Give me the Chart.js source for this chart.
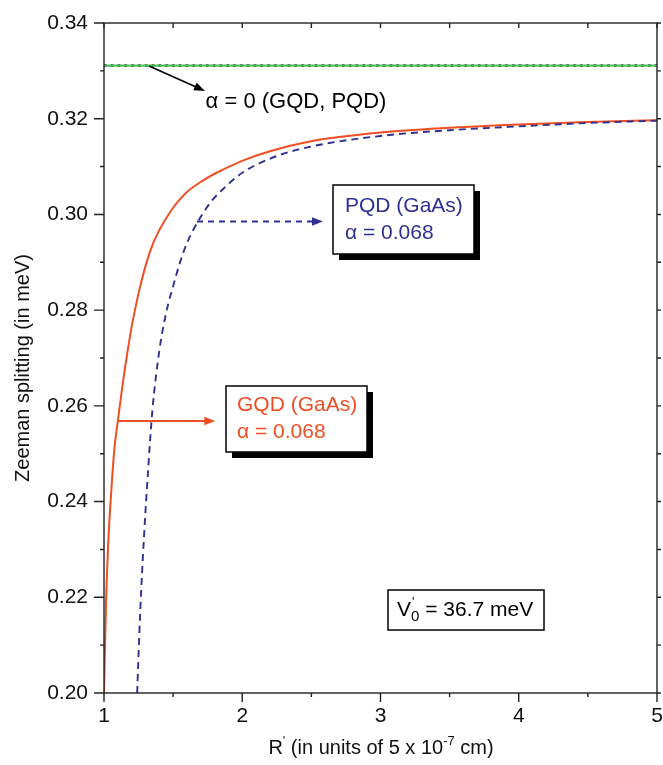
<!DOCTYPE html>
<html><head><meta charset="utf-8">
<script src="https://cdn.jsdelivr.net/npm/chart.js@4.4.0/dist/chart.umd.min.js"></script>
<style>html,body{margin:0;padding:0;background:#fff}#wrap{width:663px;height:765px}</style>
</head><body><div id="wrap"><canvas id="c" width="663" height="765"></canvas></div>
<script>
// ---- data ----
const gqdR = [1.0,1.015,1.03,1.05,1.075,1.1,1.15,1.2,1.25,1.3,1.35,1.4,1.45,1.5,1.55,1.6,1.7,1.8,2.0,2.2,2.5,3.0,3.5,4.0,4.5,5.0];
const gqdZ = [0.200,0.219,0.231,0.241,0.251,0.2568,0.2675,0.2765,0.2835,0.2892,0.2936,0.2967,0.2992,0.3014,0.3032,0.3047,0.3068,0.3085,0.3112,0.3132,0.3153,0.3171,0.3181,0.3188,0.3193,0.3197];
const pqdR = [1.24,1.255,1.27,1.29,1.32,1.35,1.4,1.45,1.5,1.55,1.6,1.65,1.7,1.77,1.85,2.0,2.25,2.5,3.0,3.5,4.0,4.5,5.0];
const pqdZ = [0.200,0.212,0.222,0.233,0.247,0.259,0.2715,0.2795,0.2850,0.2900,0.2940,0.2970,0.2995,0.3025,0.3050,0.3087,0.3122,0.3142,0.3164,0.3176,0.3184,0.3191,0.3196];
const alpha0R = [1.0,5.0];
const alpha0Z = [0.3311,0.3311];
const xTicks = [1,2,3,4,5];
const yTicks = [0.20,0.22,0.24,0.26,0.28,0.30,0.32,0.34];

const FONT = '"Liberation Sans", Arial, Helvetica, sans-serif';
const RED = '#F04E23', BLUE = '#2E3192', GREEN = '#4CBF5A';
const pts = (xs, ys) => xs.map((x, i) => ({x, y: ys[i]}));

// annotation anchors (data units)
const ann = {
  a0Arrow: [1.3255, 0.33101, 1.7306, 0.32579],
  a0Text: [1.735, 0.3235],
  pqdArrow: [1.6727, 0.29852, 2.584, 0.29852],
  gqdArrow: [1.101, 0.25684, 1.805, 0.25684],
  gqdBox: [1.8825, 0.26415, 2.9024, 0.25036],
  pqdBox: [2.6564, 0.30615, 3.6763, 0.29173],
  vBox: [3.0543, 0.22152, 4.1827, 0.21316]
};

function arrowHead(ctx, x1, y1, x2, y2, color) {
  const a = Math.atan2(y2 - y1, x2 - x1), L = 11, W = 4.2;
  ctx.save(); ctx.fillStyle = color; ctx.setLineDash([]);
  ctx.beginPath();
  ctx.moveTo(x2, y2);
  ctx.lineTo(x2 - L*Math.cos(a) + W*Math.sin(a), y2 - L*Math.sin(a) - W*Math.cos(a));
  ctx.lineTo(x2 - L*Math.cos(a) - W*Math.sin(a), y2 - L*Math.sin(a) + W*Math.cos(a));
  ctx.closePath(); ctx.fill(); ctx.restore();
}

const decor = {
  id: 'decor',
  afterDraw(chart) {
    const {ctx, chartArea: ca} = chart;
    const sx = chart.scales.x, sy = chart.scales.y;
    const P = (r, z) => [sx.getPixelForValue(r), sy.getPixelForValue(z)];
    ctx.save();
    ctx.strokeStyle = '#222'; ctx.lineWidth = 1.4;
    ctx.strokeRect(ca.left, ca.top, ca.right - ca.left, ca.bottom - ca.top);
    const nY = Math.round((sy.max - sy.min) / 0.01);
    for (let i = 0; i <= nY; i++) {
      const y = sy.getPixelForValue(sy.min + i * 0.01);
      const major = i % 2 === 0;
      ctx.beginPath();
      ctx.moveTo(ca.left - (major ? 10 : 4), y); ctx.lineTo(ca.left, y);
      ctx.moveTo(ca.right, y); ctx.lineTo(ca.right + 4, y);
      ctx.stroke();
    }
    const nX = Math.round((sx.max - sx.min) / 0.5);
    for (let i = 0; i <= nX; i++) {
      const x = sx.getPixelForValue(sx.min + i * 0.5);
      const major = i % 2 === 0;
      ctx.beginPath();
      ctx.moveTo(x, ca.bottom); ctx.lineTo(x, ca.bottom + (major ? 9 : 4));
      ctx.moveTo(x, ca.top); ctx.lineTo(x, ca.top + 5);
      ctx.stroke();
    }
    ctx.fillStyle = '#111';
    ctx.font = '20px ' + FONT;
    ctx.textBaseline = 'middle';
    ctx.save();
    ctx.translate(23, 368);
    ctx.rotate(-Math.PI / 2);
    ctx.textAlign = 'center';
    ctx.fillText('Zeeman splitting (in meV)', 0, 0);
    ctx.restore();
    const parts = [['R', 0], ['\'', 1], [' (in units of 5 x 10', 0], ['-7', 1], [' cm)', 0]];
    const fN = '20px ' + FONT, fS = '13px ' + FONT;
    let tw = 0;
    parts.forEach(p => { ctx.font = p[1] ? fS : fN; tw += ctx.measureText(p[0]).width; });
    let xx = 381 - tw / 2;
    const yy = 748;
    ctx.textAlign = 'left';
    parts.forEach(p => {
      ctx.font = p[1] ? fS : fN;
      ctx.fillText(p[0], xx, p[1] ? yy - 7 : yy);
      xx += ctx.measureText(p[0]).width;
    });

    ctx.strokeStyle = '#000'; ctx.lineWidth = 1.6;
    let [x1, y1] = P(ann.a0Arrow[0], ann.a0Arrow[1]);
    let [x2, y2] = P(ann.a0Arrow[2], ann.a0Arrow[3]);
    const ang = Math.atan2(y2 - y1, x2 - x1);
    ctx.beginPath(); ctx.moveTo(x1, y1); ctx.lineTo(x2 - 6*Math.cos(ang), y2 - 6*Math.sin(ang)); ctx.stroke();
    arrowHead(ctx, x1, y1, x2, y2, '#000');
    let [tx, ty] = P(ann.a0Text[0], ann.a0Text[1]);
    ctx.fillStyle = '#000'; ctx.font = '22px ' + FONT; ctx.textAlign = 'left';
    ctx.fillText('\u03b1 = 0 (GQD, PQD)', tx, ty);

    [x1, y1] = P(ann.pqdArrow[0], ann.pqdArrow[1]);
    [x2, y2] = P(ann.pqdArrow[2], ann.pqdArrow[3]);
    ctx.strokeStyle = BLUE; ctx.lineWidth = 1.8; ctx.setLineDash([6, 5]);
    ctx.beginPath(); ctx.moveTo(x1, y1); ctx.lineTo(x2 - 8, y2); ctx.stroke();
    ctx.setLineDash([]);
    arrowHead(ctx, x1, y1, x2, y2, BLUE);

    [x1, y1] = P(ann.gqdArrow[0], ann.gqdArrow[1]);
    [x2, y2] = P(ann.gqdArrow[2], ann.gqdArrow[3]);
    ctx.strokeStyle = RED; ctx.lineWidth = 1.8;
    ctx.beginPath(); ctx.moveTo(x1, y1); ctx.lineTo(x2 - 8, y2); ctx.stroke();
    arrowHead(ctx, x1, y1, x2, y2, RED);

    function box(b, shadow) {
      const [l, t] = P(b[0], b[1]); const [r, bt] = P(b[2], b[3]);
      if (shadow) { ctx.fillStyle = '#000'; ctx.fillRect(l + 6, t + 6, r - l, bt - t); }
      ctx.fillStyle = '#fff'; ctx.fillRect(l, t, r - l, bt - t);
      ctx.strokeStyle = '#000'; ctx.lineWidth = 1.5; ctx.strokeRect(l, t, r - l, bt - t);
      return [l, t, r, bt];
    }
    ctx.font = '21px ' + FONT; ctx.textAlign = 'left';
    let [l, t, r, b] = box(ann.pqdBox, true);
    ctx.fillStyle = BLUE;
    ctx.fillText('PQD (GaAs)', l + 12, t + 21);
    ctx.fillText('\u03b1 = 0.068', l + 12, t + 48);
    [l, t, r, b] = box(ann.gqdBox, true);
    ctx.fillStyle = RED;
    ctx.fillText('GQD (GaAs)', l + 11, t + 19);
    ctx.fillText('\u03b1 = 0.068', l + 11, t + 46);
    [l, t, r, b] = box(ann.vBox, false);
    ctx.fillStyle = '#000';
    const cy = (t + b) / 2;
    const vx = l + 9;
    ctx.font = '21px ' + FONT; ctx.fillText('V', vx, cy);
    const vw = ctx.measureText('V').width;
    ctx.font = '13px ' + FONT; ctx.fillText('\'', vx + vw + 1, cy - 8);
    ctx.font = '15px ' + FONT; ctx.fillText('0', vx + vw, cy + 7);
    const sw = ctx.measureText('0').width;
    ctx.font = '21px ' + FONT; ctx.fillText(' = 36.7 meV', vx + vw + sw, cy);
    ctx.restore();
  }
};

new Chart(document.getElementById('c'), {
  type: 'scatter',
  data: {
    datasets: [
      {data: pts(alpha0R, alpha0Z), showLine: true, borderColor: GREEN, borderWidth: 2.2, pointRadius: 0},
      {data: pts(alpha0R, alpha0Z), showLine: true, borderColor: '#111', borderWidth: 2.6, borderDash: [2.6, 4.2], pointRadius: 0},
      {data: pts(pqdR, pqdZ), showLine: true, borderColor: BLUE, borderWidth: 1.9, borderDash: [7, 5], pointRadius: 0, cubicInterpolationMode: 'monotone'},
      {data: pts(gqdR, gqdZ), showLine: true, borderColor: RED, borderWidth: 2, pointRadius: 0, cubicInterpolationMode: 'monotone'}
    ]
  },
  options: {
    responsive: false, animation: false, devicePixelRatio: 1,
    layout: {padding: {top: 23, right: 6, left: 0, bottom: 0}},
    plugins: {legend: {display: false}, tooltip: {enabled: false}},
    scales: {
      x: {
        type: 'linear', min: 1, max: 5,
        afterBuildTicks: s => { s.ticks = xTicks.map(v => ({value: v})); },
        afterFit: s => { s.height = 72; s.paddingLeft = 0; s.paddingRight = 0; },
        grid: {display: false, drawTicks: false}, border: {display: false},
        ticks: {color: '#111', font: {family: FONT, size: 21}, padding: 11, maxRotation: 0, callback: v => String(v)}
      },
      y: {
        type: 'linear', min: 0.20, max: 0.34,
        afterBuildTicks: s => { s.ticks = yTicks.map(v => ({value: v})); },
        afterFit: s => { s.width = 104; s.paddingTop = 0; s.paddingBottom = 0; },
        grid: {display: false, drawTicks: false}, border: {display: false},
        ticks: {color: '#111', font: {family: FONT, size: 21}, padding: 16, callback: v => v.toFixed(2)}
      }
    }
  },
  plugins: [decor]
});
</script></body></html>
